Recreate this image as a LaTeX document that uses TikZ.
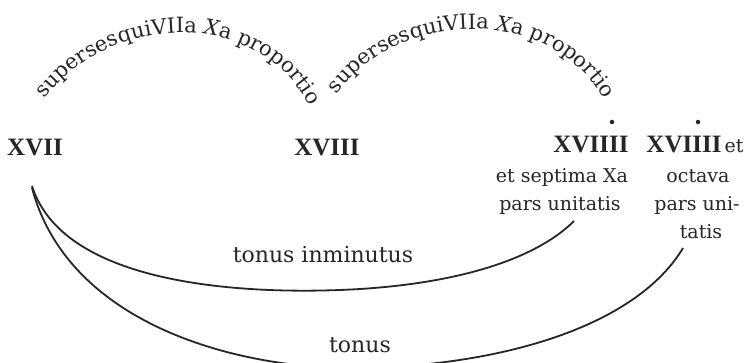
\documentclass[tikz,border=0pt]{standalone}
\usepackage{fontspec}
\setmainfont{DejaVu Serif}
\newfontfamily\numfont{Liberation Serif}
\usetikzlibrary{decorations.text}
\newcommand{\arcfont}{\fontsize{21}{21}\selectfont}
\begin{document}
\begin{tikzpicture}[x=1pt,y=-1pt,
  num/.style={font=\numfont\bfseries\fontsize{25}{25}\selectfont, anchor=base, inner sep=0pt, text=black!85},
  lab/.style={font=\fontsize{19}{19}\selectfont, anchor=base, inner sep=0pt, text=black!85},
  biglab/.style={font=\fontsize{22}{22}\selectfont, anchor=base, inner sep=0pt, text=black!85},
  link/.style={line width=1.8pt, draw=black!85},
  dotmark/.style={circle, fill=black!85, inner sep=0pt, minimum size=4.5pt},
  arctext/.style={decorate, decoration={text along path, text align=center, text color=black!85,
    text={|\arcfont|supersesquiVIIa |\arcfont\itshape|X|\arcfont|a proportio}}}]
\useasboundingbox (0,0) rectangle (744,362);
\clip (0,0) rectangle (744,362);
\fill[white] (0,0) rectangle (744,362);

% numerals
\node[num] (n17) at (35,155) {XVII};
\node[num] (n18) at (327,155) {XVIII};
\node[num] (n19a) at (591,152) {XVIIII};
\node[num] (n19b) at (684,152) {XVIIII};
\node[lab] (et) at (734,152) {et};
\node[dotmark] (d1) at (612,122) {};
\node[dotmark] (d2) at (698,122) {};

% right labels
\node[lab] (r1a) at (562,182) {et septima Xa};
\node[lab] (r1b) at (560,210) {pars unitatis};
\node[lab] (r2a) at (698,182) {octava};
\node[lab] (r2b) at (697,210) {pars uni-};
\node[lab] (r2c) at (701,238) {tatis};

% lower labels
\node[biglab] (ti) at (323,262) {tonus inminutus};
\node[biglab] (to) at (360,352) {tonus};

% arc texts
\coordinate (a1s) at (40,106);
\coordinate (a1e) at (314,114);
\coordinate (a2s) at (330,104);
\coordinate (a2e) at (610,110);
\path[arctext] (a1s) .. controls (102,12) and (262,2) .. (a1e);
\path[arctext] (a2s) .. controls (388,8) and (557,-2) .. (a2e);

% curves
\coordinate (c1s) at (32,186);
\coordinate (c1e) at (574,221);
\coordinate (c2s) at (32,188);
\coordinate (c2e) at (683,248);
\draw[link] (c1s) .. controls (65,290) and (260,295) .. (360,289)
  .. controls (470,282) and (540,255) .. (c1e);
\draw[link] (c2s) .. controls (70,330) and (250,372) .. (370,368)
  .. controls (520,363) and (640,320) .. (c2e);
\end{tikzpicture}
\end{document}
